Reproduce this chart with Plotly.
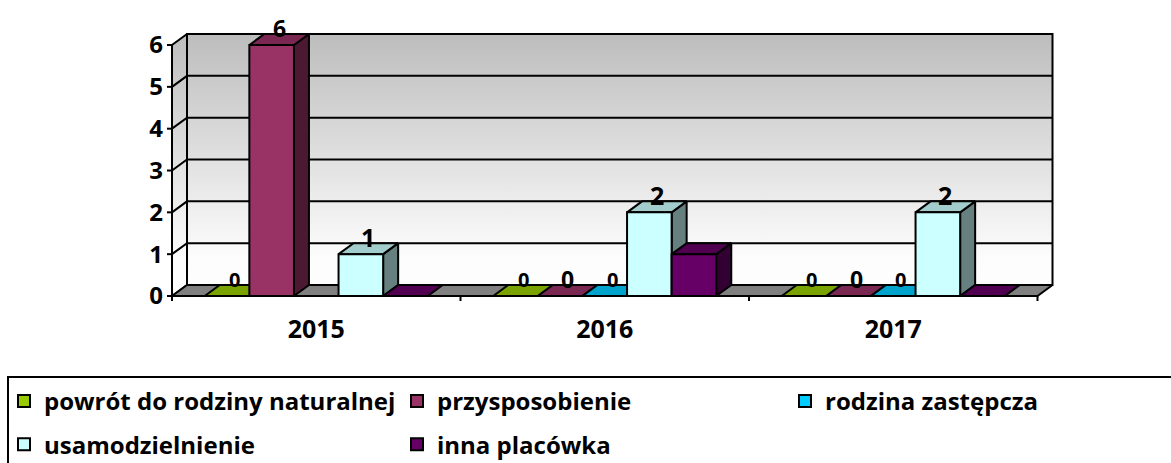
import plotly.graph_objects as go

# ------------------------------------------------------------------ data
categories = ["2015", "2016", "2017"]
series_names = [
    "powrót do rodziny naturalnej",
    "przysposobienie",
    "rodzina zastępcza",
    "usamodzielnienie",
    "inna placówka",
]
powrot_do_rodziny = [0, 0, 0]
przysposobienie = [6, 0, 0]
rodzina_zastepcza = [None, 0, 0]
usamodzielnienie = [1, 2, 2]
inna_placowka = [0, 1, 0]
y_tick_values = [0, 1, 2, 3, 4, 5, 6]

series_values = [powrot_do_rodziny, przysposobienie, rodzina_zastepcza,
                 usamodzielnienie, inna_placowka]

# ------------------------------------------------------------------ style
FONT = "Open Sans"
front_colors = ["#99CC00", "#993366", "#00CCFF", "#CCFFFF", "#660066"]
label_visible = [True, True, True, True, False]
label_sizes = [20, 23, 20, 25, 20]
legend_of_series = ["legend", "legend2", "legend3", "legend", "legend2"]

W, H = 1171, 463
PLOT_L, PLOT_R, PLOT_T, PLOT_B = 166, 1062, 18, 306
AXIS_X0_PX = 172        # pixel of the left front axis
CAT_PX = 288.5          # pixels per category
Y0_PX = 296             # pixel of value 0 (front)
UNIT_PX = 41.83         # pixels per value unit
DEPTH_X_PX, DEPTH_Y_PX = 15, 11

x_range = [-0.5 - (AXIS_X0_PX - PLOT_L) / CAT_PX, -0.5 + (PLOT_R - AXIS_X0_PX) / CAT_PX]
y_range = [-(PLOT_B - Y0_PX) / UNIT_PX, (Y0_PX - PLOT_T) / UNIT_PX]
dx = DEPTH_X_PX / CAT_PX
dy = DEPTH_Y_PX / UNIT_PX
n_ser = len(series_names)
GROUP_FRAC = 0.773
bw = GROUP_FRAC / n_ser
x_left = -0.5
x_right = len(categories) - 0.5
y_top = max(y_tick_values)


def shade(hex_color, f):
    h = hex_color.lstrip("#")
    r, g, b = (int(h[i:i + 2], 16) for i in (0, 2, 4))
    return "#%02X%02X%02X" % (int(r * f), int(g * f), int(b * f))


def polygon(xs, ys, fill, width=2):
    return go.Scatter(x=xs, y=ys, mode="lines", fill="toself", fillcolor=fill,
                      line=dict(color="black", width=width), hoverinfo="skip",
                      showlegend=False, xaxis="x", yaxis="y")


def lines(xs, ys, width=2):
    return go.Scatter(x=xs, y=ys, mode="lines", line=dict(color="black", width=width),
                      hoverinfo="skip", showlegend=False, xaxis="x", yaxis="y")


wall_scale = [[0, "#FFFFFF"], [0.15, "#FCFCFC"], [1, "#BDBDBD"]]
fig = go.Figure()

# left wall
fig.add_trace(go.Scatter(
    x=[x_left, x_left + dx, x_left + dx, x_left, x_left],
    y=[0, dy, y_top + dy, y_top, 0], mode="lines", fill="toself",
    fillgradient=dict(type="vertical", colorscale=wall_scale, start=0, stop=y_top + dy),
    line=dict(color="black", width=2), hoverinfo="skip", showlegend=False))
# back wall
fig.add_trace(go.Scatter(
    x=[x_left + dx, x_right + dx, x_right + dx, x_left + dx, x_left + dx],
    y=[dy, dy, y_top + dy, y_top + dy, dy], mode="lines", fill="toself",
    fillgradient=dict(type="vertical", colorscale=wall_scale, start=0, stop=y_top + dy),
    line=dict(color="black", width=2), hoverinfo="skip", showlegend=False))
# gridlines on walls
gx, gy = [], []
for v in y_tick_values[1:-1]:
    gx += [x_left, x_left + dx, x_right + dx, None]
    gy += [v, v + dy, v + dy, None]
fig.add_trace(lines(gx, gy))
# floor
fig.add_trace(polygon([x_left, x_right, x_right + dx, x_left + dx, x_left],
                      [0, 0, dy, dy, 0], "#808080"))
# axis line + tick marks
fig.add_trace(lines([x_left, x_left], [0, y_top]))
tx, ty = [], []
for v in y_tick_values:
    tx += [x_left - 5 / CAT_PX, x_left, None]
    ty += [v, v, None]
for b in range(len(categories) + 1):
    tx += [b - 0.5, b - 0.5, None]
    ty += [0, -5 / UNIT_PX, None]
fig.add_trace(lines(tx, ty))

# side / top faces (below the front faces)
annotations = []
for i in range(len(categories)):
    for j in range(n_ser):
        v = series_values[j][i]
        if v is None:
            continue
        c = i + (j - (n_ser - 1) / 2) * bw
        x0, x1 = c - bw / 2, c + bw / 2
        top_col = shade(front_colors[j], 0.8)
        side_col = shade(front_colors[j], 0.5)
        if v > 0:
            fig.add_trace(polygon([x1, x1 + dx, x1 + dx, x1, x1],
                                  [0, dy, v + dy, v, 0], side_col))
        fig.add_trace(polygon([x0, x1, x1 + dx, x0 + dx, x0],
                              [v, v, v + dy, v + dy, v], top_col))
        if label_visible[j]:
            annotations.append(dict(
                x=c, y=v, xref="x", yref="y", text=str(v), showarrow=False,
                xshift=DEPTH_X_PX / 2, yshift=17, yanchor="middle",
                font=dict(family=FONT, size=label_sizes[j], color="black", weight="bold")))

# front faces as real bars (overlay subplot so they sit above the walls)
for j in range(n_ser):
    fig.add_trace(go.Bar(
        x=categories, y=series_values[j], name=series_names[j],
        width=bw, offset=(j - n_ser / 2) * bw,
        marker=dict(color=front_colors[j], line=dict(color="black", width=2)),
        xaxis="x2", yaxis="y2", legend=legend_of_series[j],
        legendgroup=series_names[j], hoverinfo="skip"))


def px_x(p):
    return (p - PLOT_L) / (PLOT_R - PLOT_L)


def px_y(p):
    return (PLOT_B - p) / (PLOT_B - PLOT_T)


legend_font = dict(family=FONT, size=24, color="black", weight="bold")
legend_common = dict(orientation="v", xref="container", yref="container",
                     xanchor="left", yanchor="top", y=1 - 379 / H,
                     bgcolor="rgba(0,0,0,0)", font=legend_font, tracegroupgap=9,
                     borderwidth=0)

fig.update_layout(
    width=W, height=H,
    margin=dict(l=PLOT_L, r=W - PLOT_R, t=PLOT_T, b=H - PLOT_B, autoexpand=False),
    paper_bgcolor="white", plot_bgcolor="rgba(0,0,0,0)",
    barmode="overlay",
    xaxis=dict(range=x_range, tickvals=list(range(len(categories))), ticktext=categories,
               showgrid=False, zeroline=False, showline=False, ticks="",
               tickfont=dict(family=FONT, size=25, color="black", weight="bold"),
               ticklabelstandoff=6),
    yaxis=dict(range=y_range, tickvals=y_tick_values, showgrid=False, zeroline=False,
               showline=False, ticks="",
               tickfont=dict(family=FONT, size=24, color="black", weight="bold"),
               ticklabelstandoff=2),
    xaxis2=dict(type="category", categoryarray=categories, overlaying="x",
                range=x_range, visible=False),
    yaxis2=dict(overlaying="y", range=y_range, visible=False),
    legend=dict(legend_common, x=4 / W),
    legend2=dict(legend_common, x=397 / W),
    legend3=dict(legend_common, x=785 / W),
    annotations=annotations,
    shapes=[dict(type="rect", xref="paper", yref="paper",
                 x0=px_x(8), x1=px_x(1200), y0=px_y(377), y1=px_y(520),
                 line=dict(color="black", width=2), fillcolor="rgba(0,0,0,0)")],
    showlegend=True,
)

fig.write_html("out.html", config={"displayModeBar": False},
               post_script="document.body.style.margin='0';")
